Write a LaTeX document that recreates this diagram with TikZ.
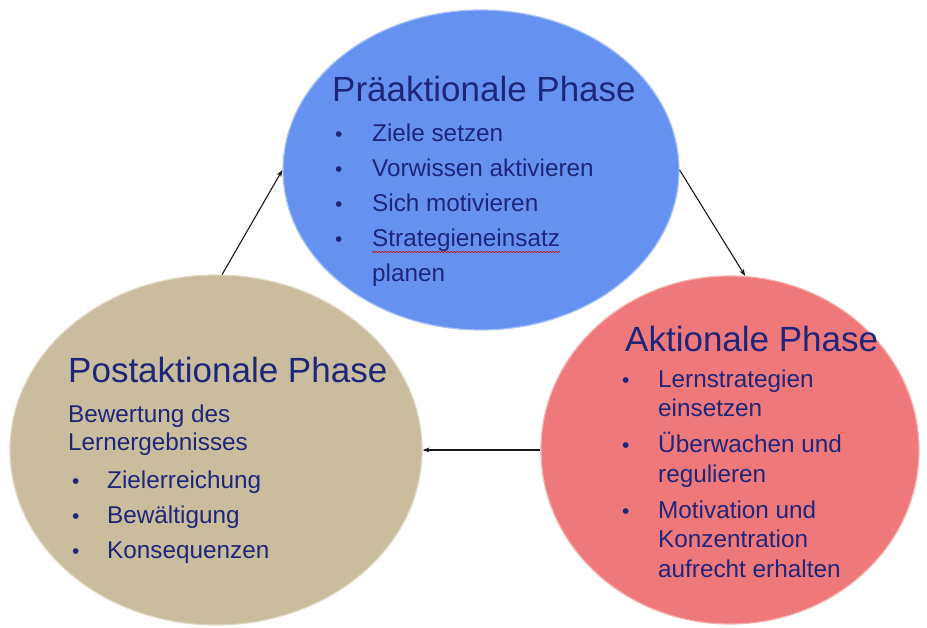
\documentclass[tikz,border=0pt]{standalone}
\usepackage{fontspec}
\setmainfont{Liberation Sans}
\usetikzlibrary{shapes.geometric,arrows.meta,decorations.pathmorphing}
\definecolor{bluefill}{RGB}{101,146,240}
\definecolor{blueedge}{RGB}{170,195,245}
\definecolor{redfill}{RGB}{239,120,122}
\definecolor{rededge}{RGB}{245,175,170}
\definecolor{tanfill}{RGB}{201,189,158}
\definecolor{tanedge}{RGB}{222,214,195}
\definecolor{txt}{RGB}{30,38,122}
\begin{document}
\begin{tikzpicture}[x=1pt,y=-1pt,
  phase/.style={ellipse,inner sep=0pt,line width=1.2pt},
  head/.style={anchor=base west,inner sep=0pt,text=txt,font=\fontsize{35}{40}\selectfont},
  body/.style={anchor=base west,inner sep=0pt,text=txt,font=\fontsize{24.3}{29}\selectfont},
  bul/.style={anchor=base west,inner sep=0pt,text=txt,font=\fontsize{21}{29}\selectfont},
  conn/.style={-{Stealth[length=7pt,width=5pt]},line width=1.1pt,black!90}]
\useasboundingbox (0,0) rectangle (927,628);

% ellipses
\node[phase,fill=bluefill,draw=blueedge,minimum width=396pt,minimum height=320pt] (pre) at (481,170) {};
\node[phase,fill=redfill,draw=rededge,minimum width=378pt,minimum height=348pt] (act) at (730,450) {};
\node[phase,fill=tanfill,draw=tanedge,minimum width=412pt,minimum height=350pt] (post) at (216,450) {};

% connectors
\draw[conn] (post.88) -- (pre.west);
\draw[conn] (pre.east) -- (act.85);
\draw[conn] (act.west) -- (post.east);

% Präaktionale Phase
\node[head] (h1) at (332,102) {Präaktionale Phase};
\node[bul] (b11) at (335,142) {•};
\node[body] (p11) at (372,142) {Ziele setzen};
\node[bul] (b12) at (335,177) {•};
\node[body] (p12) at (372,177) {Vorwissen aktivieren};
\node[bul] (b13) at (335,212) {•};
\node[body] (p13) at (372,212) {Sich motivieren};
\node[bul] (b14) at (335,247) {•};
\node[body] (p14) at (372,247) {Strategieneinsatz};
\node[body] (p15) at (372,282) {planen};
\draw[red!85!black,line width=0.5pt,decorate,decoration={snake,amplitude=0.7pt,segment length=3pt}]
  ([yshift=-5pt]p14.base west) -- ([yshift=-5pt]p14.base east);

% Aktionale Phase
\node[head] (h2) at (625,352) {Aktionale Phase};
\node[bul] (b21) at (622,388) {•};
\node[body] (p21) at (658,388) {Lernstrategien};
\node[body] (p22) at (658,417) {einsetzen};
\node[bul] (b22) at (622,453) {•};
\node[body] (p23) at (658,453) {Überwachen und};
\node[body] (p24) at (658,482) {regulieren};
\node[bul] (b23) at (622,518) {•};
\node[body] (p25) at (658,518) {Motivation und};
\node[body] (p26) at (658,547) {Konzentration};
\node[body] (p27) at (658,577) {aufrecht erhalten};

% Postaktionale Phase
\node[head] (h3) at (68,383) {Postaktionale Phase};
\node[body] (p31) at (68,422) {Bewertung des};
\node[body] (p32) at (68,450) {Lernergebnisses};
\node[bul] (b31) at (72,488) {•};
\node[body] (p33) at (107,488) {Zielerreichung};
\node[bul] (b32) at (72,523) {•};
\node[body] (p34) at (107,523) {Bewältigung};
\node[bul] (b33) at (72,558) {•};
\node[body] (p35) at (107,558) {Konsequenzen};
\end{tikzpicture}
\end{document}
